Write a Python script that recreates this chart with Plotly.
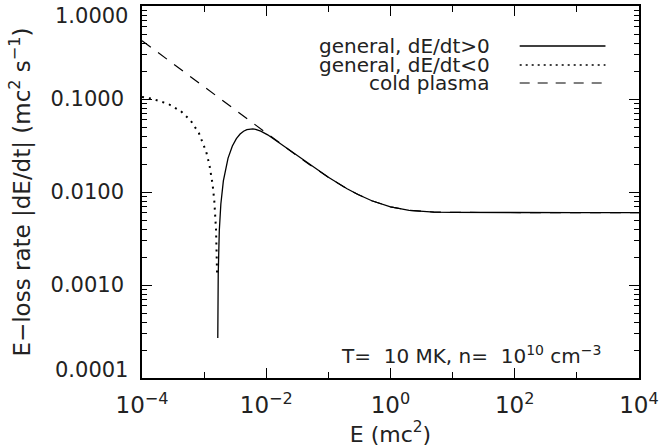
import plotly.graph_objects as go

# ---------------- data ----------------
# general case, energy gain branch (dE/dt < 0), plotted as |dE/dt|
E_gain = [1.0e-4, 1.517e-4, 2.698e-4, 4.215e-4, 6.070e-4, 8.261e-4, 1.079e-3,
          1.218e-3, 1.366e-3, 1.458e-3, 1.554e-3, 1.603e-3, 1.618e-3]
rate_gain = [0.1054, 0.0999, 0.0880, 0.0740, 0.0587, 0.0428, 0.0271,
             0.0195, 0.0122, 0.00802, 0.00394, 0.00189, 0.00128]

# general case, energy loss branch (dE/dt > 0)
E_loss = [1.659e-3, 1.686e-3, 1.754e-3, 1.859e-3, 2.040e-3, 2.428e-3, 2.849e-3,
          3.305e-3, 3.794e-3, 4.316e-3, 4.873e-3, 5.463e-3, 6.086e-3, 6.744e-3,
          8.160e-3, 1.054e-2, 1.517e-2, 3e-2, 5e-2, 0.1, 0.2, 0.3, 0.5, 1.0,
          2.0, 3.0, 5.0, 10.0, 30.0, 100.0, 1e3, 1e4]
rate_loss = [0.00027, 0.00129, 0.00383, 0.00744, 0.01315, 0.02314, 0.03121,
             0.03744, 0.04197, 0.04503, 0.04684, 0.04764, 0.04768, 0.04715,
             0.04504, 0.04119, 0.03480, 0.02504, 0.01968, 0.01440, 0.01085,
             0.00939, 0.00805, 0.00693, 0.00636, 0.00620, 0.00609, 0.00603,
             0.00600, 0.00600, 0.00600, 0.00600]

# cold plasma approximation
E_cold = [1e-4, 3e-4, 1e-3, 3e-3, 1e-2, 3e-2, 5e-2, 0.1, 0.2, 0.3, 0.5, 1.0,
          2.0, 3.0, 5.0, 10.0, 30.0, 100.0, 1e3, 1e4]
rate_cold = [0.4243, 0.2449, 0.1343, 0.07763, 0.04274, 0.02504, 0.01968,
             0.01440, 0.01085, 0.00939, 0.00805, 0.00693, 0.00636, 0.00620,
             0.00609, 0.00603, 0.00600, 0.00600, 0.00600, 0.00600]

x_tickvals = [1e-4, 1e-2, 1e0, 1e2, 1e4]
x_ticktext = ["10<sup>−4</sup>", "10<sup>−2</sup>", "10<sup>0</sup>",
              "10<sup>2</sup>", "10<sup>4</sup>"]
x_minorvals = [1e-3, 1e-1, 1e1, 1e3]
y_tickvals = [1e-4, 1e-3, 1e-2, 1e-1, 1e0]
y_ticktext = ["0.0001", "0.0010", "0.0100", "0.1000", "1.0000"]
legend_labels = ["general, dE/dt>0", "general, dE/dt<0", "cold plasma"]
x_title = "E (mc<sup>2</sup>)"
y_title = "E−loss rate |dE/dt| (mc<sup>2</sup> s<sup>−1</sup>)"
info_text = "T=\u00a0 10 MK, n=\u00a0 10<sup>10</sup> cm<sup>−3</sup>"

# ---------------- styling ----------------
FONT = "DejaVu Sans"
TXT = "#222222"
y_minorvals = [k * 10.0 ** p for p in range(-4, 0) for k in range(2, 10)]

fig = go.Figure()
fig.add_trace(go.Scatter(x=E_cold, y=rate_cold, mode="lines",
                         line=dict(color="black", width=1.2, dash="11px,9px"),
                         showlegend=False, hoverinfo="skip"))
fig.add_trace(go.Scatter(x=E_gain, y=rate_gain, mode="lines",
                         line=dict(color="black", width=2.0, dash="2px,5px"),
                         showlegend=False, hoverinfo="skip"))
fig.add_trace(go.Scatter(x=E_loss, y=rate_loss, mode="lines",
                         line=dict(color="black", width=1.3),
                         showlegend=False, hoverinfo="skip"))
# invisible trace that anchors the mirrored (top / right) tick axes
fig.add_trace(go.Scatter(x=E_cold, y=rate_cold, mode="lines", opacity=0,
                         line=dict(width=0), xaxis="x2", yaxis="y2",
                         showlegend=False, hoverinfo="skip"))

L, R, T, B = 142, 19, 6, 69
W, H = 665, 447
pw, ph = W - L - R, H - T - B


def px(xp):
    return (xp - L) / pw


def py(yp):
    return 1 - (yp - T) / ph


axis_common = dict(
    type="log", showgrid=False, zeroline=False, showline=True,
    linecolor="black", linewidth=1.5, mirror=False,
    ticks="inside", tickcolor="black", tickwidth=1.2,
)
x_minor = dict(tickmode="array", tickvals=x_minorvals, ticks="inside",
               ticklen=6, tickcolor="black", tickwidth=1.2)
y_minor = dict(tickmode="array", tickvals=y_minorvals, ticks="inside",
               ticklen=5, tickcolor="black", tickwidth=1.2)

fig.update_layout(
    width=W, height=H,
    margin=dict(l=L, r=R, t=T, b=B, pad=0),
    paper_bgcolor="white", plot_bgcolor="white",
    font=dict(family=FONT, color=TXT),
    xaxis=dict(
        **axis_common, range=[-4, 4], ticklen=10,
        tickmode="array", tickvals=x_tickvals, ticktext=x_ticktext,
        tickfont=dict(family=FONT, size=23, color=TXT),
        ticklabelstandoff=6, ticklabeloverflow="allow",
        minor=x_minor,
        title=dict(text=x_title, font=dict(family=FONT, size=22, color=TXT),
                   standoff=0),
    ),
    yaxis=dict(
        **axis_common, range=[-4, 0], ticklen=10,
        tickmode="array", tickvals=y_tickvals,
        ticktext=["", y_ticktext[1], y_ticktext[2], y_ticktext[3], ""],
        tickfont=dict(family=FONT, size=21, color=TXT),
        ticklabelstandoff=12,
        minor=y_minor,
        title=dict(text=y_title, font=dict(family=FONT, size=23, color=TXT),
                   standoff=14),
    ),
    xaxis2=dict(
        **axis_common, range=[-4, 4], ticklen=10, side="top",
        overlaying="x", anchor="y2",
        tickmode="array", tickvals=x_tickvals, showticklabels=False,
        minor=x_minor,
    ),
    yaxis2=dict(
        **axis_common, range=[-4, 0], ticklen=10, side="right",
        overlaying="y", anchor="x2",
        tickmode="array", tickvals=y_tickvals, showticklabels=False,
        minor=y_minor,
    ),
)

annotations = []
# end labels of the y axis, kept inside the axis span as in the reference
annotations.append(dict(text=y_ticktext[4], xref="paper", yref="paper",
                        x=0, y=1, xanchor="right", yanchor="middle",
                        xshift=-12, yshift=-10, showarrow=False,
                        font=dict(family=FONT, size=21, color=TXT)))
annotations.append(dict(text=y_ticktext[0], xref="paper", yref="paper",
                        x=0, y=0, xanchor="right", yanchor="middle",
                        xshift=-12, yshift=8, showarrow=False,
                        font=dict(family=FONT, size=21, color=TXT)))

rows = [46, 65, 83]
dashes = ["solid", "2px,4px", "10px,8px"]
widths = [1.3, 1.6, 1.2]
shapes = []
for lab, yr, d, w in zip(legend_labels, rows, dashes, widths):
    annotations.append(dict(text=lab, xref="paper", yref="paper",
                            x=px(497), y=py(yr), xanchor="right",
                            yanchor="middle", showarrow=False,
                            font=dict(family=FONT, size=20, color=TXT)))
    shapes.append(dict(type="line", xref="paper", yref="paper",
                       x0=px(525), x1=px(612), y0=py(yr), y1=py(yr),
                       line=dict(color="black", width=w, dash=d)))

annotations.append(dict(text=info_text, xref="paper", yref="paper",
                        x=px(611), y=py(355), xanchor="right",
                        yanchor="middle", showarrow=False,
                        font=dict(family=FONT, size=20, color=TXT)))

fig.update_layout(annotations=annotations, shapes=shapes)

fig.write_html("out.html")
